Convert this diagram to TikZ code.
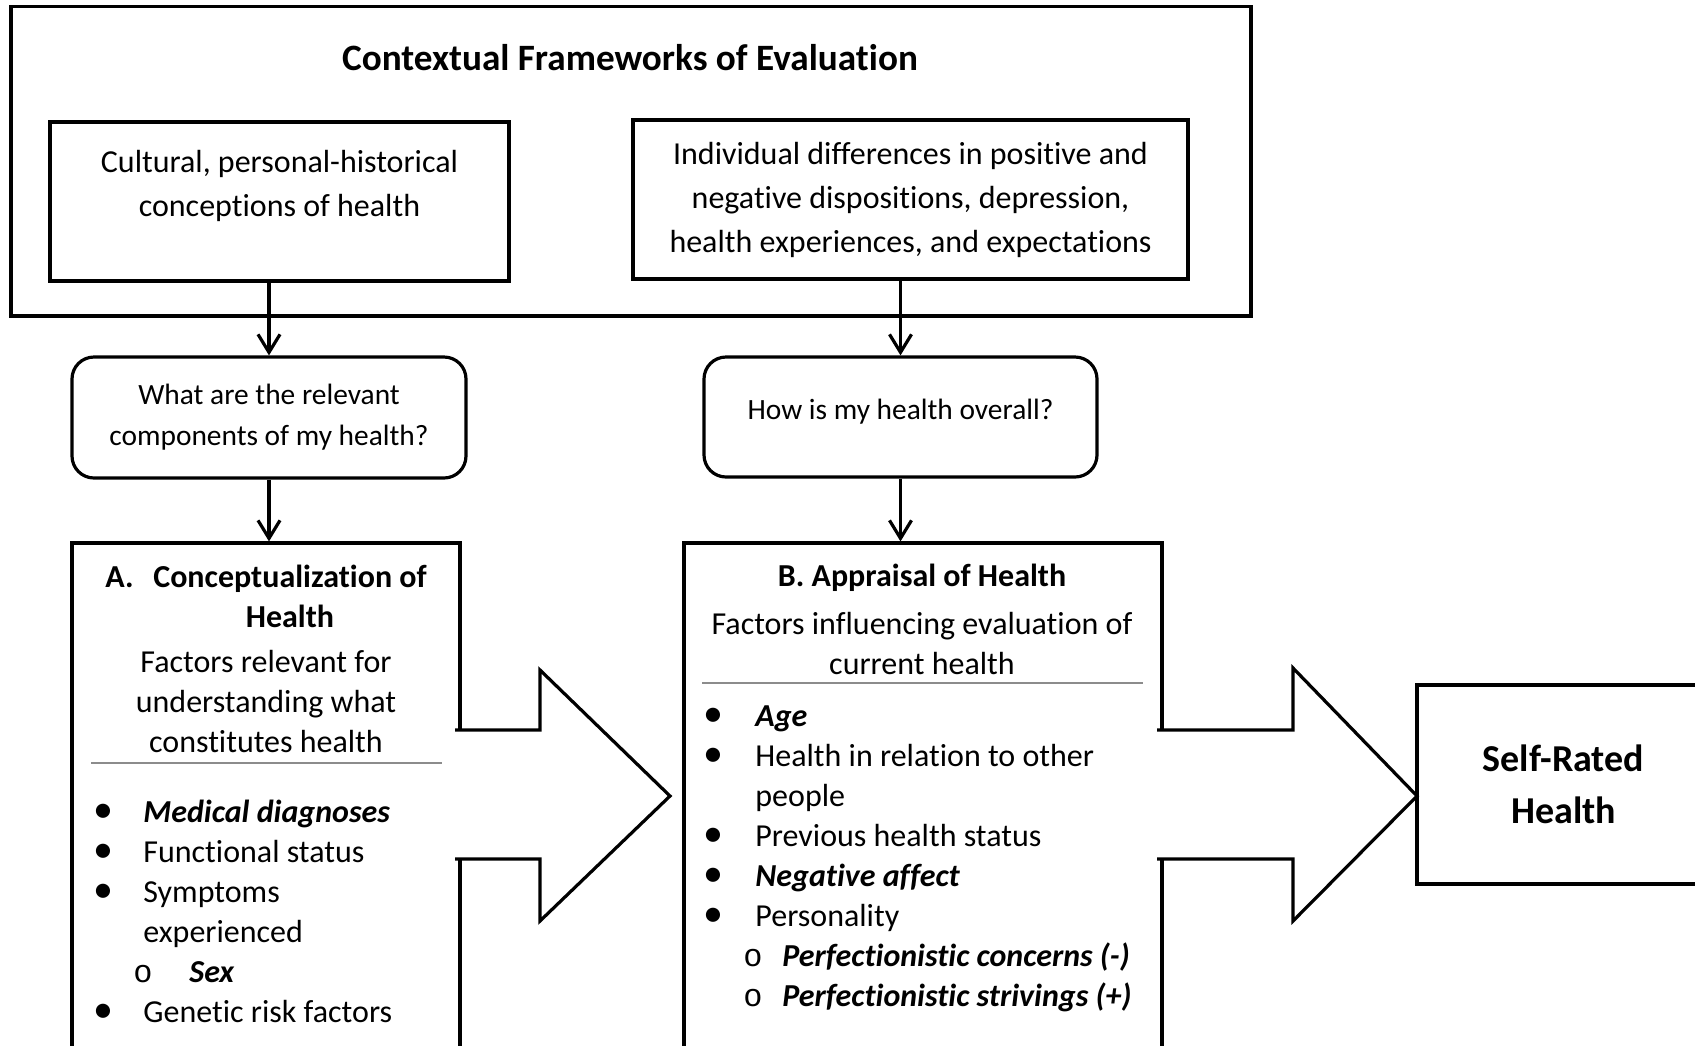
\documentclass[tikz,border=0pt]{standalone}
\usepackage{fontspec}
\setmainfont{Carlito}[Ligatures=NoCommon]
\newfontfamily\monofont{Liberation Mono}
\usetikzlibrary{arrows.meta}
\newcommand{\bul}[1][25pt]{\makebox[#1][l]{\scalebox{1.25}{•}}}
\newcommand{\subbul}[1]{\hspace*{20pt}\makebox[#1][l]{\monofont o}}
\newcommand{\bi}[1]{\textbf{\textit{#1}}}
\tikzset{
  box/.style={draw, line width=1.6pt, inner sep=0pt},
  qbox/.style={box, rounded corners=11pt},
  flow/.style={line width=1.6pt, -{Straight Barb[length=9pt,width=11pt,line width=1.6pt]}},
  bigarrow/.style={line width=1.6pt, fill=white, line join=miter},
  rule/.style={line width=1pt, black!45},
  ctxtext/.style={font=\fontsize{16}{22}\selectfont, align=center},
  qtext/.style={font=\fontsize{14.7}{20.5}\selectfont, align=center},
  plain/.style={font=\fontsize{16}{20}\selectfont, inner sep=0pt},
  bhead/.style={font=\fontsize{16}{20}\selectfont\bfseries, inner sep=0pt}
}
\begin{document}
\begin{tikzpicture}[x=0.5pt,y=-0.5pt]
  \clip (0,0) rectangle (1695,1045);

  % contextual frameworks
  \node[box, minimum width=620pt, minimum height=154.75pt] (frame) at (631,161.25) {};
  \node[bhead, font=\fontsize{18.6}{22}\selectfont\bfseries] (title) at (630,58) {Contextual Frameworks of Evaluation};
  \node[box, minimum width=229.5pt, minimum height=79.5pt] (cultural) at (279.5,201.5) {};
  \node[ctxtext] (culturaltxt) at (279.5,186) {Cultural, personal-historical\\conceptions of health};
  \node[box, ctxtext, minimum width=277.5pt, minimum height=79.5pt] (indiv) at (910.5,199.5)
    {Individual differences in positive and\\negative dispositions, depression,\\health experiences, and expectations};

  % questions
  \node[qbox, qtext, minimum width=197pt, minimum height=60.5pt] (qA) at (269,417.5)
    {What are the relevant\\components of my health?};
  \node[qbox, qtext, minimum width=196.5pt, minimum height=60pt] (qB) at (900.5,417)
    {\raisebox{2.5pt}[\height][\depth]{How is my health overall?}};

  % main boxes
  \node[box, minimum width=194pt, minimum height=278.5pt] (boxA) at (266,821.5) {};
  \node[box, minimum width=239pt, minimum height=278.5pt] (boxB) at (923,821.5) {};
  \node[box, font=\fontsize{19}{26}\selectfont\bfseries, align=center,
        minimum width=146.5pt, minimum height=99.5pt] (srh) at (1563.5,784.5) {Self-Rated\\Health};

  \draw[flow] (qA.north |- cultural.south) -- (qA.north);
  \draw[flow] (qB.north |- indiv.south) -- (qB.north);
  \draw[flow] (qA.south) -- (qA.south |- boxA.north);
  \draw[flow] (qB.south) -- (qB.south |- boxB.north);

  % block arrows
  \filldraw[bigarrow] (455,730) -- (540,730) -- (540,670) -- (670,796) -- (540,921) -- (540,859) -- (455,859);
  \filldraw[bigarrow] (1157,730) -- (1293,730) -- (1293,668) -- (1417,796) -- (1293,921) -- (1293,859) -- (1157,859);

  % A. conceptualization (base = last line)
  \node[bhead, anchor=base west] (labA) at (105,587) {A.};
  \node[bhead, anchor=base, align=center] (headA) at (290,627) {Conceptualization of\\Health};
  \node[plain, anchor=base, align=center] (subA) at (266,752)
    {Factors relevant for\\understanding what\\constitutes health};
  \draw[rule] (91,763) -- (442,763);
  \node[plain, anchor=base west, align=left] (listA) at (93,1022)
    {\bul\bi{Medical diagnoses}\\
     \bul Functional status\\
     \bul Symptoms\\
     \hspace*{25pt}experienced\\
     \subbul{28pt}\bi{Sex}\\
     \bul Genetic risk factors};

  % B. appraisal
  \node[bhead, anchor=base] (headB) at (922,586) {B. Appraisal of Health};
  \node[plain, anchor=base, align=center] (subB) at (922,674)
    {Factors influencing evaluation of\\current health};
  \draw[rule] (702,683) -- (1143,683);
  \node[plain, anchor=base west, align=left] (listB) at (703,1006)
    {\bul[26pt]\bi{Age}\\
     \bul[26pt]Health in relation to other\\
     \hspace*{26pt}people\\
     \bul[26pt]Previous health status\\
     \bul[26pt]\bi{Negative affect}\\
     \bul[26pt]Personality\\
     \subbul{19.5pt}\bi{Perfectionistic concerns (-)}\\
     \subbul{19.5pt}\bi{Perfectionistic strivings (+)}};
\end{tikzpicture}
\end{document}
